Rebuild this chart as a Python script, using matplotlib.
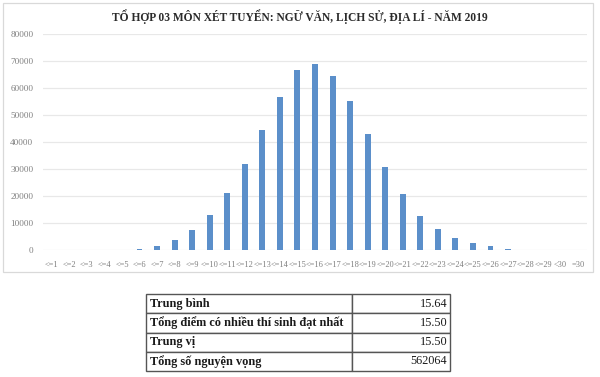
import matplotlib
matplotlib.use("Agg")
import matplotlib.pyplot as plt
from matplotlib.patches import Rectangle

# Score bins (cumulative-style labels) and number of applications per bin
categories = ["<=1", "<=2", "<=3", "<=4", "<=5", "<=6", "<=7", "<=8", "<=9", "<=10",
              "<=11", "<=12", "<=13", "<=14", "<=15", "<=16", "<=17", "<=18", "<=19", "<=20",
              "<=21", "<=22", "<=23", "<=24", "<=25", "<=26", "<=27", "<=28", "<=29", "<30",
              "=30"]
counts = [0, 0, 0, 0, 0, 500, 1600, 3800, 7500, 13100,
          21000, 31700, 44600, 56700, 66700, 68900, 64600, 55100, 43000, 30600,
          20700, 12600, 7800, 4400, 2500, 1400, 400, 50, 0, 0,
          0]
yticks = [0, 10000, 20000, 30000, 40000, 50000, 60000, 70000, 80000]

title = "TỔ HỢP 03 MÔN XÉT TUYỂN: NGỮ VĂN, LỊCH SỬ, ĐỊA LÍ - NĂM 2019"

stat_labels = ["Trung bình", "Tổng điểm có nhiều thí sinh đạt nhất", "Trung vị",
               "Tổng số nguyện vọng"]
stat_values = ["15.64", "15.50", "15.50", "562064"]

W, H = 600, 377
fig = plt.figure(figsize=(W / 100, H / 100), dpi=100)
fig.patch.set_facecolor("white")

# Chart panel frame
frame = Rectangle((3 / W, 1 - 272 / H), 590 / W, 269 / H, transform=fig.transFigure,
                  fill=False, edgecolor="#d9d9d9", linewidth=0.9)
fig.patches.append(frame)

fig.text(0.5, 1 - 17 / H, title, ha="center", va="center",
         fontfamily="Liberation Serif", fontweight="bold", fontsize=8.3, color="#2b2b2b")

# Bar chart
left, right = 43, 587
top, bottom = 34, 250
ax = fig.add_axes([left / W, 1 - bottom / H, (right - left) / W, (bottom - top) / H])
x = list(range(len(categories)))
ax.bar(x, counts, width=0.34, color="#5b8fca", zorder=3)
ax.set_xlim(-0.5, len(categories) - 0.5)
ax.set_ylim(0, 80000)
ax.set_yticks(yticks)
ax.set_yticklabels([str(v) for v in yticks])
ax.set_xticks(x)
ax.set_xticklabels(categories)
ax.grid(axis="y", color="#e8e8e8", linewidth=0.9, zorder=0)
for s in ax.spines.values():
    s.set_visible(False)
ax.tick_params(axis="both", length=0, colors="#7f7f7f")
ax.tick_params(axis="x", pad=8, labelsize=6.0)
ax.tick_params(axis="y", pad=7, labelsize=6.6)
for lbl in ax.get_xticklabels() + ax.get_yticklabels():
    lbl.set_fontfamily("Liberation Serif")

# Summary statistics table
tx0, tx1, tcol = 146, 450, 352
ty0, ty1 = 294, 371
tax = fig.add_axes([tx0 / W, 1 - ty1 / H, (tx1 - tx0) / W, (ty1 - ty0) / H])
tax.axis("off")
rows = [[lab, val] for lab, val in zip(stat_labels, stat_values)]
col_w = (tcol - tx0) / (tx1 - tx0)
tbl = tax.table(cellText=rows, colWidths=[col_w, 1 - col_w], bbox=[0, 0, 1, 1],
                cellLoc="left")
tbl.auto_set_font_size(False)
for (r, c), cell in tbl.get_celld().items():
    cell.set_edgecolor("#555555")
    cell.set_linewidth(1.0)
    t = cell.get_text()
    t.set_fontfamily("Liberation Serif")
    t.set_fontsize(8.8)
    t.set_color("#1a1a1a")
    if c == 0:
        t.set_fontweight("bold")
        cell.set_text_props(ha="left")
        cell.PAD = 0.02
    else:
        cell._loc = "right"
        t.set_ha("right")
        cell.PAD = 0.03

fig.savefig("out.png", dpi=100, facecolor="white")
